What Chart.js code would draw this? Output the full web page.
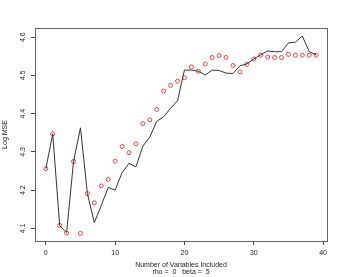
<!DOCTYPE html>
<html>
<head>
<meta charset="utf-8">
<script src="https://cdn.jsdelivr.net/npm/chart.js@4"></script>
<style>body{margin:0;background:#fff}</style>
</head>
<body>
<canvas id="mseChart" width="346" height="277"></canvas>
<script>
// number of variables included
const nVars = [0,1,2,3,4,5,6,7,8,9,10,11,12,13,14,15,16,17,18,19,
               20,21,22,23,24,25,26,27,28,29,30,31,32,33,34,35,36,37,38,39];
// black line
const lineMse = [4.256,4.347,4.107,4.089,4.275,4.363,4.191,4.115,4.160,4.207,
                 4.200,4.246,4.270,4.261,4.315,4.339,4.380,4.392,4.414,4.434,
                 4.514,4.514,4.511,4.501,4.514,4.513,4.506,4.505,4.525,4.530,
                 4.543,4.554,4.564,4.562,4.562,4.585,4.587,4.603,4.562,4.554];
// red circles
const circleMse = [4.256,4.347,4.108,4.088,4.275,4.087,4.191,4.167,4.211,4.228,
                   4.276,4.314,4.298,4.321,4.374,4.384,4.411,4.459,4.474,4.485,
                   4.494,4.522,4.511,4.530,4.547,4.552,4.547,4.526,4.509,4.529,
                   4.543,4.553,4.548,4.547,4.547,4.555,4.553,4.553,4.553,4.553];
const xTicks = [0,10,20,30,40];
const yTicks = [4.1,4.2,4.3,4.4,4.5,4.6];
const xTitle = ['Number of Variables Included', 'rho =  0   beta =  5'];
const yTitle = 'Log MSE';

const FONT = '"Liberation Sans", Arial, sans-serif';

// R style: full box round the plot and vertical y tick labels
const boxPlugin = {
    id: 'boxPlugin',
    afterDraw(chart) {
        const {ctx, chartArea: a, scales: {y}} = chart;
        ctx.save();
        ctx.strokeStyle = '#666';
        ctx.lineWidth = 1;
        ctx.strokeRect(a.left + 0.5, a.top + 0.5, a.right - a.left, a.bottom - a.top);
        ctx.font = '7px ' + FONT;
        ctx.fillStyle = '#222';
        ctx.textAlign = 'center';
        ctx.textBaseline = 'middle';
        y.ticks.forEach(t => {
            ctx.save();
            ctx.translate(23, y.getPixelForValue(t.value));
            ctx.rotate(-Math.PI / 2);
            ctx.fillText(t.value.toFixed(1), 0, 0);
            ctx.restore();
        });
        ctx.restore();
    }
};

const ctx = document.getElementById('mseChart').getContext('2d');
new Chart(ctx, {
    type: 'line',
    data: {
        datasets: [
            {
                data: nVars.map((n, i) => ({x: n, y: lineMse[i]})),
                borderColor: '#333',
                borderWidth: 1,
                pointRadius: 0,
                tension: 0,
                fill: false
            },
            {
                data: nVars.map((n, i) => ({x: n, y: circleMse[i]})),
                showLine: false,
                pointStyle: 'circle',
                pointRadius: 2,
                pointBorderWidth: 1,
                pointBorderColor: 'rgb(255,60,60)',
                pointBackgroundColor: 'rgba(0,0,0,0)'
            }
        ]
    },
    options: {
        responsive: false,
        animation: false,
        events: [],
        layout: { padding: { left: 0, right: 19, top: 28, bottom: 0 } },
        plugins: { legend: { display: false }, tooltip: { enabled: false } },
        scales: {
            x: {
                type: 'linear',
                min: -1.56,
                max: 40.56,
                afterBuildTicks: s => { s.ticks = xTicks.map(v => ({value: v})); },
                afterFit: s => { s.height = 36; },
                grid: { drawOnChartArea: false, drawTicks: true, tickLength: 4, color: '#444' },
                border: { display: false },
                ticks: { font: { family: FONT, size: 7 }, color: '#222', padding: 4, maxRotation: 0, autoSkip: false },
                title: {
                    display: true, text: xTitle, color: '#222',
                    font: { family: FONT, size: 7, lineHeight: 1 },
                    padding: { top: 0, bottom: 1 }
                }
            },
            y: {
                min: 4.067,
                max: 4.624,
                afterBuildTicks: s => { s.ticks = yTicks.map(v => ({value: v})); },
                afterFit: s => { s.width = 35; },
                grid: { drawOnChartArea: false, drawTicks: true, tickLength: 4, color: '#444' },
                border: { display: false },
                ticks: { display: false },
                title: {
                    display: true, text: yTitle, color: '#222',
                    font: { family: FONT, size: 7, lineHeight: 1 },
                    padding: { top: 2, bottom: 0 }
                }
            }
        }
    },
    plugins: [boxPlugin]
});
</script>
</body>
</html>
